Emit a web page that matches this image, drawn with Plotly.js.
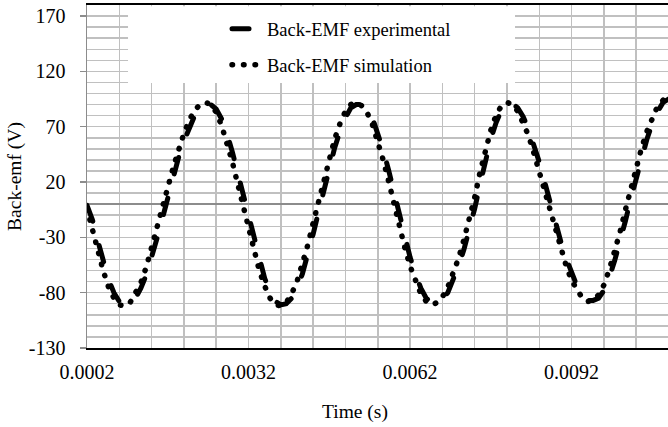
<!DOCTYPE html>
<html><head><meta charset="utf-8">
<script src="https://cdn.plot.ly/plotly-3.0.1.min.js"></script>
<style>
html,body{margin:0;padding:0;background:#fff;}
#chart{width:668px;height:427px;}
path.js-line{stroke-linecap:round;}
</style></head><body><div id="chart"></div>
<script>
// Time (s)
const timeS = [0.0002,0.0003,0.0004,0.0005,0.0006,0.0007,0.0008,0.0009,0.0010,0.0011,
0.0012,0.0013,0.0014,0.0015,0.0016,0.0017,0.0018,0.0019,0.0020,0.0021,
0.0022,0.0023,0.0024,0.0025,0.0026,0.0027,0.0028,0.0029,0.0030,0.0031,
0.0032,0.0033,0.0034,0.0035,0.0036,0.0037,0.0038,0.0039,0.0040,0.0041,
0.0042,0.0043,0.0044,0.0045,0.0046,0.0047,0.0048,0.0049,0.0050,0.0051,
0.0052,0.0053,0.0054,0.0055,0.0056,0.0057,0.0058,0.0059,0.0060,0.0061,
0.0062,0.0063,0.0064,0.0065,0.0066,0.0067,0.0068,0.0069,0.0070,0.0071,
0.0072,0.0073,0.0074,0.0075,0.0076,0.0077,0.0078,0.0079,0.0080,0.0081,
0.0082,0.0083,0.0084,0.0085,0.0086,0.0087,0.0088,0.0089,0.0090,0.0091,
0.0092,0.0093,0.0094,0.0095,0.0096,0.0097,0.0098,0.0099,0.0100,0.0101,
0.0102,0.0103,0.0104,0.0105,0.0106,0.0107,0.0108,0.0109,0.0110];

// Back-EMF experimental (V)
const backEmfExperimental = [-1,-14,-33,-52,-68,-80,-88,-91,-90,-85,
-76,-64,-49,-31,-13,6,24,42,57,70,
80,87,90,90,86,77,64,47,28,8,
-13,-33,-52,-67,-80,-88,-91,-90,-85,-76,
-63,-46,-27,-7,13,33,51,66,78,87,
90,90,86,78,65,49,31,11,-10,-30,
-48,-63,-76,-85,-89,-90,-86,-80,-69,-56,
-41,-23,-4,18,40,59,74,85,90,91,
87,79,68,54,38,20,1,-17,-34,-49,
-63,-74,-82,-87,-87,-85,-78,-66,-51,-34,
-15,5,24,42,59,73,84,92,95];

// Back-EMF simulation (V)
const backEmfSimulation = [-4,-23,-43,-60,-75,-85,-91,-92,-89,-81,
-71,-57,-40,-22,-3,15,33,50,64,76,
85,90,92,90,83,71,56,38,18,-2,
-23,-43,-60,-74,-85,-91,-92,-89,-81,-70,
-55,-37,-17,3,23,42,59,73,84,90,
92,89,83,72,57,40,21,0,-20,-39,
-56,-70,-81,-88,-91,-89,-84,-75,-63,-49,
-32,-14,6,29,50,67,81,89,92,90,
84,74,62,46,29,10,-8,-26,-42,-56,
-69,-78,-85,-88,-87,-82,-73,-59,-43,-25,
-5,15,33,51,66,79,89,94,96];

const seriesNames = ['Back-EMF experimental', 'Back-EMF simulation'];
const xTickVals = [0.0002, 0.0032, 0.0062, 0.0092];
const xTickText = ['0.0002', '0.0032', '0.0062', '0.0092'];
const yTickVals = [-130, -80, -30, 20, 70, 120, 170];
const yTickText = ['-130', '-80', '-30', '20', '70', '120', '170'];

const FONT = 'Liberation Serif';
const GRID = '#c0c0c0';
const AXG = '#8c8c8c';

const traces = [
  {x: timeS, y: backEmfExperimental, name: seriesNames[0], type: 'scatter', mode: 'lines',
   legendgroup: 'a', line: {color: '#000', width: 5, dash: '17px,25px'}},
  {x: timeS, y: backEmfSimulation, name: seriesNames[1], type: 'scatter', mode: 'lines',
   legendgroup: 'b', line: {color: '#000', width: 5.5, dash: '0.5px,11px'}}
];

const layout = {
  width: 668, height: 427,
  margin: {l: 87, r: 0, t: 5, b: 79, pad: 0},
  paper_bgcolor: '#fff', plot_bgcolor: '#fff',
  font: {family: FONT, size: 20, color: '#000'},
  showlegend: true,
  legend: {x: 0.241, xanchor: 'left', y: 0.985, yanchor: 'top', bgcolor: 'rgba(0,0,0,0)',
           borderwidth: 0, font: {family: FONT, size: 18.5, color: '#000'},
           traceorder: 'grouped', tracegroupgap: 9},
  xaxis: {
    range: [0.0002, 0.01099], tickmode: 'array', tickvals: xTickVals, ticktext: xTickText,
    showgrid: true, gridcolor: GRID, gridwidth: 1.5,
    minor: {tickmode: 'linear', tick0: 0.0002, dtick: 0.0006, showgrid: true, gridcolor: GRID, gridwidth: 1.5, ticks: ''},
    showline: true, linecolor: '#000', linewidth: 2, mirror: true,
    ticks: '', zeroline: false, ticklabelstandoff: 5,
    tickfont: {family: FONT, size: 20, color: '#000'}
  },
  yaxis: {
    range: [-130, 180], tickmode: 'array', tickvals: yTickVals, ticktext: yTickText,
    showgrid: true, gridcolor: GRID, gridwidth: 1.5,
    minor: {tickmode: 'linear', tick0: -130, dtick: 10, showgrid: true, gridcolor: GRID, gridwidth: 1.5, ticks: ''},
    showline: true, linecolor: AXG, linewidth: 1.5, mirror: false,
    ticks: 'outside', ticklen: 6, tickwidth: 1.5, tickcolor: AXG,
    zeroline: true, zerolinecolor: AXG, zerolinewidth: 1.5,
    ticklabelstandoff: 10,
    tickfont: {family: FONT, size: 20, color: '#000'},
    title: {text: 'Back-emf (V)', font: {family: FONT, size: 19.5, color: '#000'}, standoff: 2}
  },
  shapes: [
    {type: 'rect', xref: 'paper', yref: 'paper', x0: 0.0706, x1: 0.7367, y0: 0.7726, y1: 0.996,
     fillcolor: '#fff', line: {width: 0}, layer: 'above'}
  ],
  annotations: [
    {text: 'Time (s)', xref: 'paper', yref: 'paper', x: 0.461, y: -0.186, xanchor: 'center', yanchor: 'middle',
     showarrow: false, font: {family: FONT, size: 19.5, color: '#000'}}
  ]
};

Plotly.newPlot('chart', traces, layout, {staticPlot: true, displayModeBar: false});
</script></body></html>
